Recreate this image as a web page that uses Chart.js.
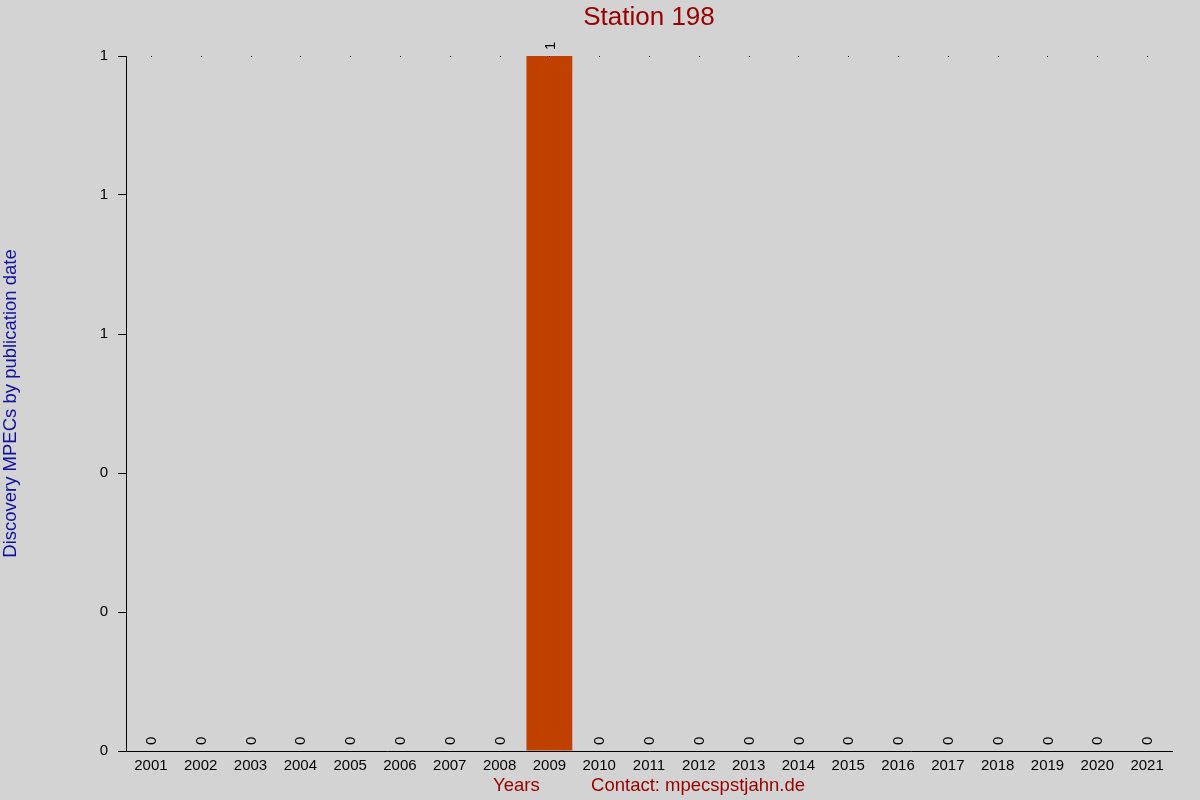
<!DOCTYPE html>
<html>
<head>
<meta charset="utf-8">
<script src="https://cdn.jsdelivr.net/npm/chart.js@4.4.0/dist/chart.umd.min.js"></script>
<style>
  html, body { margin: 0; padding: 0; background: #d3d3d3; }
  #wrap { width: 1200px; height: 800px; position: relative; }
</style>
</head>
<body>
<div id="wrap"><canvas id="c" width="1200" height="800"></canvas></div>
<script>
const years = ['2001','2002','2003','2004','2005','2006','2007','2008','2009','2010','2011','2012','2013','2014','2015','2016','2017','2018','2019','2020','2021'];
const mpecCounts = [0,0,0,0,0,0,0,0,1,0,0,0,0,0,0,0,0,0,0,0,0];
const yTickLabels = ['0','0','0','1','1','1'];
const chartTitle = 'Station 198';
const yTitle = 'Discovery MPECs by publication date';
const xTitle = 'Years          Contact: mpecspstjahn.de';

const FONT = "'Liberation Sans', Arial, sans-serif";

const bgPlugin = {
  id: 'bg',
  beforeDraw(chart) {
    const ctx = chart.ctx;
    ctx.save();
    ctx.fillStyle = '#d3d3d3';
    ctx.fillRect(0, 0, chart.width, chart.height);
    ctx.restore();
  }
};

const titlePlugin = {
  id: 'centeredTitle',
  afterDraw(chart) {
    const ctx = chart.ctx;
    const ca = chart.chartArea;
    ctx.save();
    ctx.font = '26px ' + FONT;
    ctx.fillStyle = '#990000';
    ctx.textAlign = 'center';
    ctx.textBaseline = 'middle';
    ctx.fillText(chartTitle, (ca.left + ca.right) / 2, 18);
    ctx.restore();
  }
};

const labelPlugin = {
  id: 'valueLabels',
  afterDatasetsDraw(chart) {
    const ctx = chart.ctx;
    const meta = chart.getDatasetMeta(0);
    const xs = chart.scales.x;
    const top = chart.chartArea.top;
    ctx.save();
    ctx.fillStyle = '#000';
    years.forEach((y, i) => {
      const px = Math.round(xs.getPixelForValue(i));
      ctx.fillRect(px, top, 1, 1);
    });
    ctx.font = '15px ' + FONT;
    ctx.fillStyle = '#000';
    ctx.textAlign = 'left';
    ctx.textBaseline = 'middle';
    meta.data.forEach((bar, i) => {
      ctx.save();
      ctx.translate(bar.x + 1, bar.y - 6);
      ctx.rotate(-Math.PI / 2);
      ctx.fillText(String(mpecCounts[i]), 0, 0);
      ctx.restore();
    });
    ctx.restore();
  }
};

new Chart(document.getElementById('c'), {
  type: 'bar',
  data: {
    labels: years,
    datasets: [{
      data: mpecCounts,
      backgroundColor: '#c04000',
      borderWidth: 0,
      barPercentage: 0.92,
      categoryPercentage: 1.0
    }]
  },
  plugins: [bgPlugin, titlePlugin, labelPlugin],
  options: {
    responsive: false,
    animation: false,
    devicePixelRatio: 1,
    layout: { padding: { left: 0, right: 28, top: 56, bottom: 0 } },
    plugins: {
      legend: { display: false },
      tooltip: { enabled: false },
      title: { display: false }
    },
    scales: {
      x: {
        grid: { display: false, drawTicks: false, tickLength: 0 },
        border: { display: true, color: '#000', width: 1 },
        ticks: {
          color: '#000',
          font: { family: FONT, size: 15 },
          padding: 6,
          maxRotation: 0,
          autoSkip: false
        },
        title: {
          display: true,
          text: xTitle,
          color: '#990000',
          font: { family: FONT, size: 18.5, lineHeight: 1.2 },
          padding: { top: 0, bottom: 3 }
        },
        afterFit(scale) { scale.height = 49; }
      },
      y: {
        min: 0,
        max: 1,
        grid: { drawOnChartArea: false, drawTicks: true, tickLength: 8, color: '#000' },
        border: { display: true, color: '#000', width: 1 },
        ticks: {
          stepSize: 0.2,
          color: '#000',
          font: { family: FONT, size: 15 },
          padding: 10,
          callback: (v, i) => yTickLabels[i]
        },
        title: {
          display: true,
          text: yTitle,
          color: '#1010a0',
          font: { family: FONT, size: 18.5, lineHeight: 1.2 },
          padding: 0
        },
        afterFit(scale) { scale.width = 126; }
      }
    }
  }
});
</script>
</body>
</html>
